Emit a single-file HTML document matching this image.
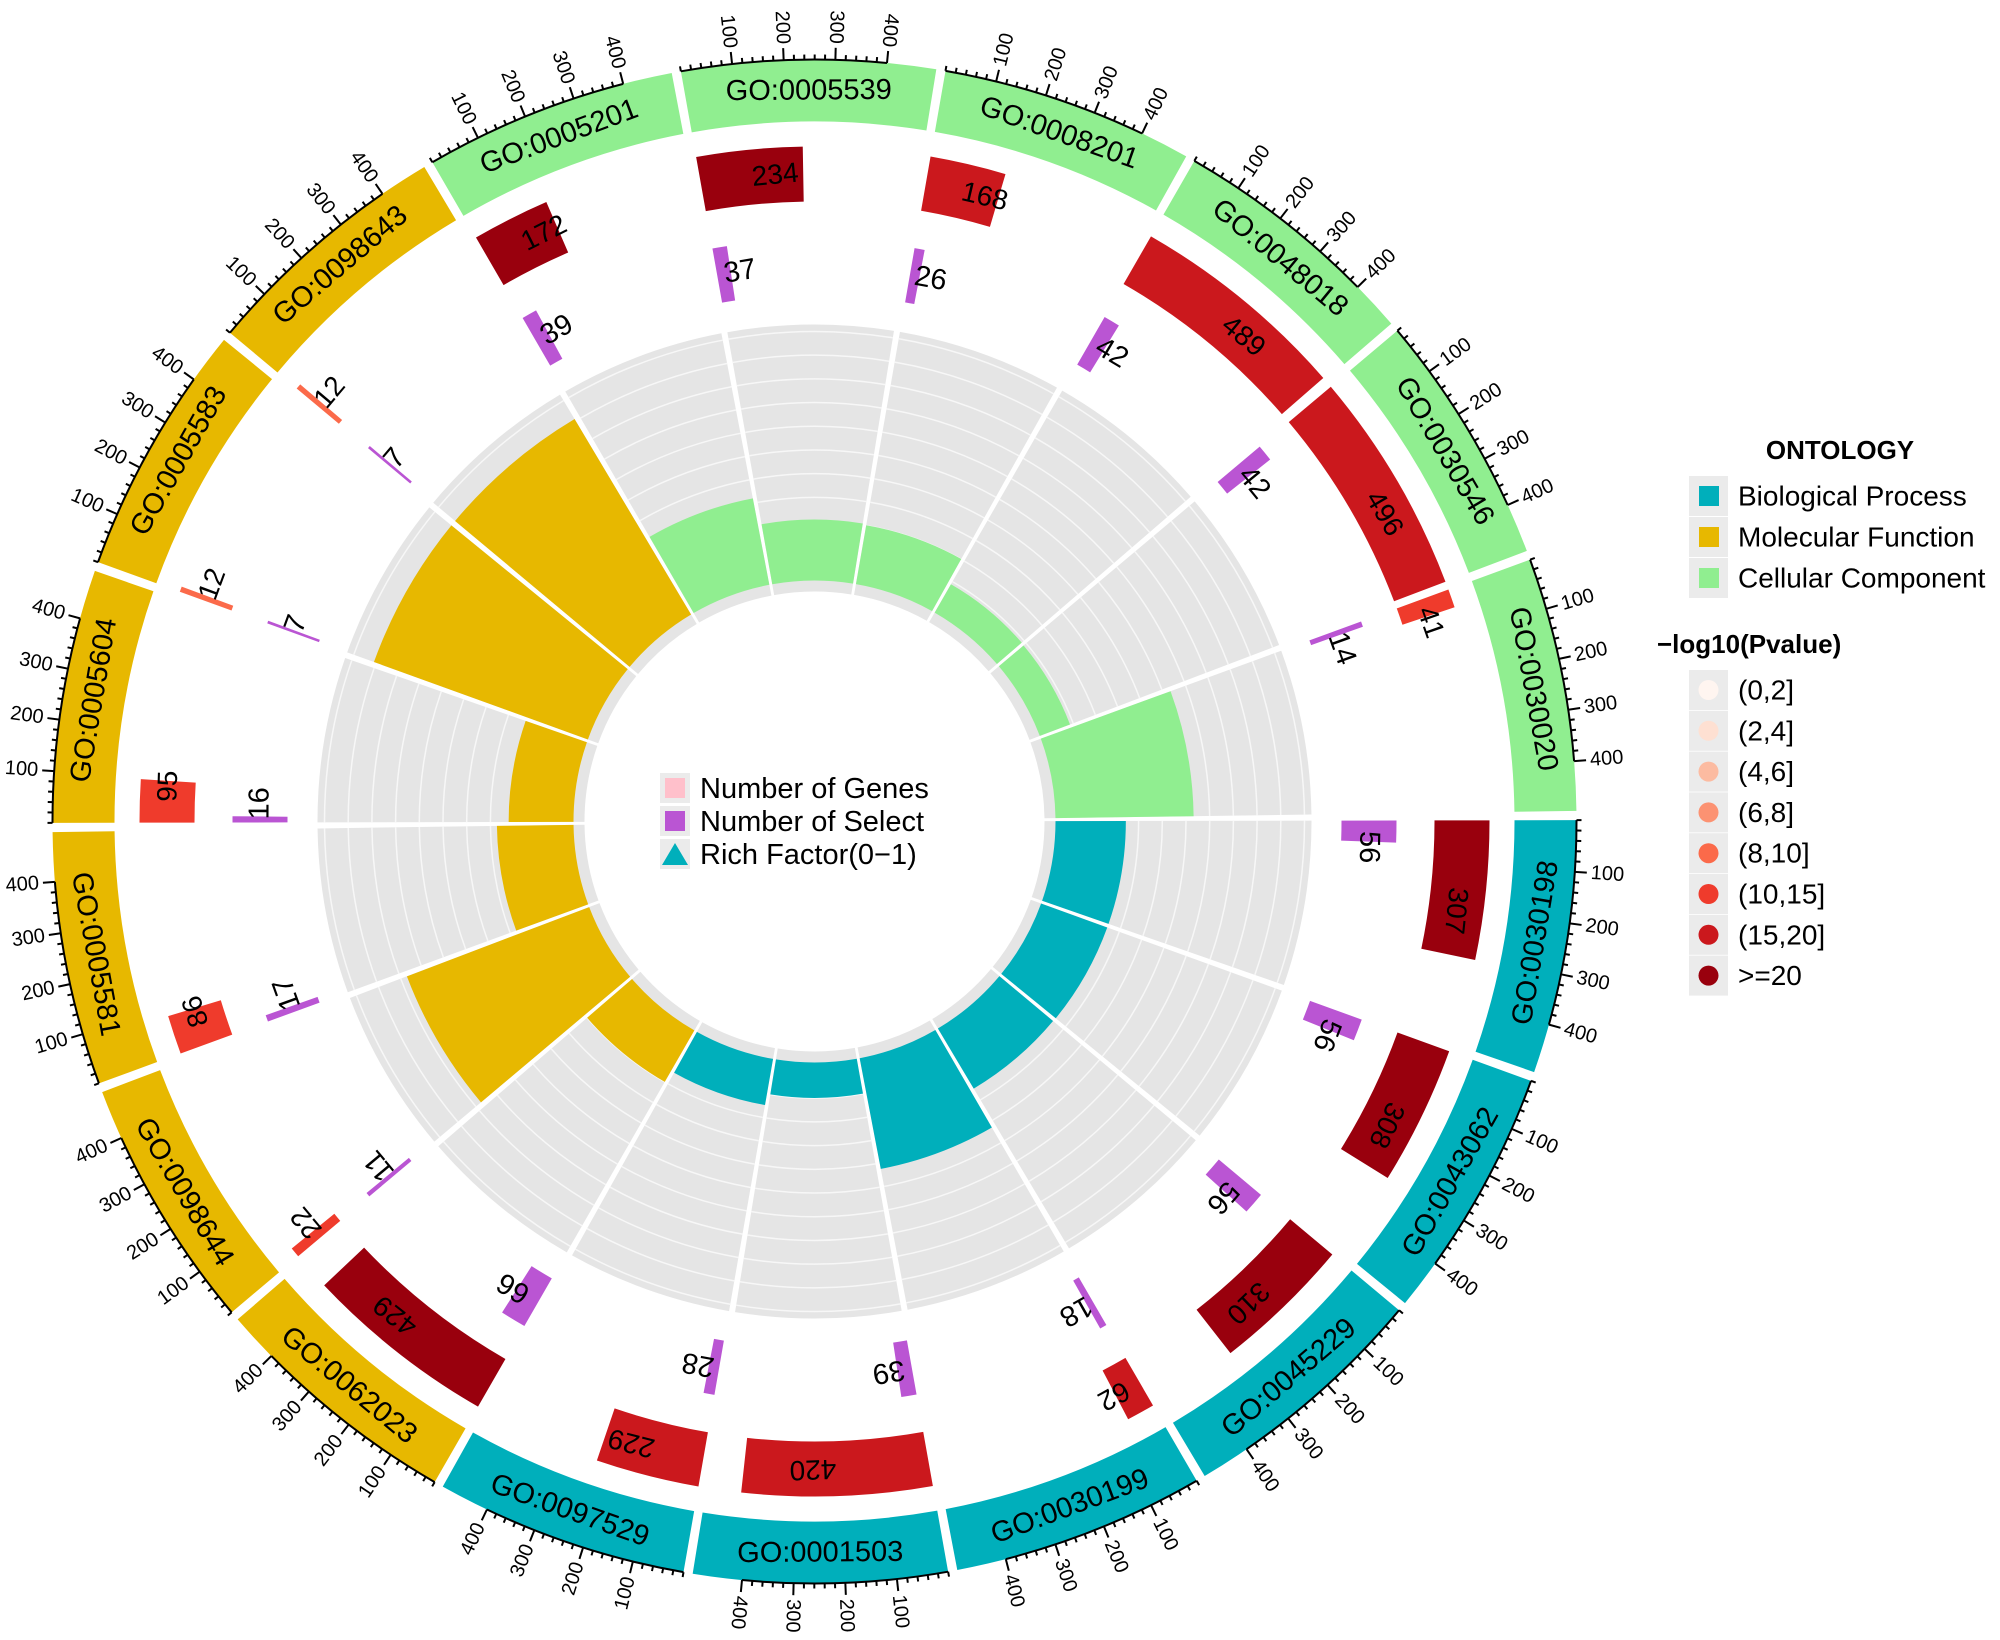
<!DOCTYPE html>
<html><head><meta charset="utf-8"><style>
html,body{margin:0;padding:0;background:#fff}
svg{display:block;font-family:"Liberation Sans",Arial,sans-serif}
</style></head><body>
<svg id="chart" width="2000" height="1640" viewBox="0 0 2000 1640" xmlns="http://www.w3.org/2000/svg">
<g id="plot"></g>
<g id="center-legend">
  <rect x="660" y="773" width="30" height="30" fill="#ebebeb"/>
  <rect x="665" y="778" width="20" height="20" fill="#ffc0cb"/>
  <text x="700" y="789" font-size="29" dominant-baseline="central">Number of Genes</text>
  <rect x="660" y="806" width="30" height="30" fill="#ebebeb"/>
  <rect x="665" y="811" width="20" height="20" fill="#ba55d3"/>
  <text x="700" y="822" font-size="29" dominant-baseline="central">Number of Select</text>
  <rect x="660" y="839" width="30" height="30" fill="#ebebeb"/>
  <polygon points="675,843 688,865 662,865" fill="#00afbb"/>
  <text x="700" y="855" font-size="29" dominant-baseline="central">Rich Factor(0−1)</text>
</g>
<g id="legend">
  <text x="1840" y="450" font-size="26" font-weight="bold" text-anchor="middle" dominant-baseline="central">ONTOLOGY</text>
</g>
</svg>
<script>
const ids = ["GO:0005539","GO:0008201","GO:0048018","GO:0030546","GO:0030020","GO:0030198","GO:0043062","GO:0045229","GO:0030199","GO:0001503","GO:0097529","GO:0062023","GO:0098644","GO:0005581","GO:0005604","GO:0005583","GO:0098643","GO:0005201"];
const ontology = ["CC","CC","CC","CC","CC","BP","BP","BP","BP","BP","BP","MF","MF","MF","MF","MF","MF","CC"];
const genes = [234,168,489,496,41,307,308,310,62,420,229,429,22,86,95,12,12,172];
const selectN = [37,26,42,42,14,56,56,56,18,39,28,66,11,17,16,7,7,39];
const pBin = [7,6,6,6,5,7,7,7,6,6,6,7,5,5,5,4,4,7];
const richFactor = [0.158,0.155,0.086,0.085,0.355,0.182,0.182,0.181,0.29,0.093,0.122,0.154,0.5,0.198,0.168,0.583,0.583,0.227];
const tickValues = [100,200,300,400];
const pLabels = ["(0,2]","(2,4]","(4,6]","(6,8]","(8,10]","(10,15]","(15,20]",">=20"];
const ontLabels = ["Biological Process","Molecular Function","Cellular Component"];

const pColors = ["#fff5f0","#fee0d2","#fcbba1","#fc9272","#fb6a4a","#ef3b2c","#cb181d","#99000d"];
const ontColors = {BP:"#00afbb", MF:"#e7b800", CC:"#90ee90"};
const CX=814.5, CY=821.5, START0=-10.1, STEP=20, SPAN=19.3, UNIT=0.0389;
const NS="http://www.w3.org/2000/svg";
const plot=document.getElementById('plot');
function rad(a){return a*Math.PI/180;}
function pt(r,a){return [CX+r*Math.sin(rad(a)), CY-r*Math.cos(rad(a))];}
function sectorPath(r0,r1,a0,a1){
  const p1=pt(r1,a0),p2=pt(r1,a1),p3=pt(r0,a1),p4=pt(r0,a0);
  const lg=(a1-a0)>180?1:0;
  return `M${p1[0]},${p1[1]} A${r1},${r1} 0 ${lg} 1 ${p2[0]},${p2[1]} L${p3[0]},${p3[1]} A${r0},${r0} 0 ${lg} 0 ${p4[0]},${p4[1]} Z`;
}
function arcPath(r,a0,a1){const p1=pt(r,a0),p2=pt(r,a1);return `M${p1[0]},${p1[1]} A${r},${r} 0 0 1 ${p2[0]},${p2[1]}`;}
function mk(tag,attrs,parent){const e=document.createElementNS(NS,tag);for(const k in attrs)e.setAttribute(k,attrs[k]);(parent||plot).appendChild(e);return e;}
function norm(a){return ((a%360)+360)%360;}
function richR(v){return 240+v*392;}

ids.forEach((id,i)=>{
  const s=START0+STEP*i, e=s+SPAN, c=s+SPAN/2, nc=norm(c);
  const g=mk('g',{});
  
  
  const bg=mk('path',{d:sectorPath(230,497,s,e),fill:'#e5e5e5'},g);
  
  
  for(let k=0;k<=10;k++){
    const gl=mk('path',{d:arcPath(253+23.7*k,s,e),fill:'none',stroke:'#f7f7f7','stroke-width':1.5},g);
    
    
  }
  const rb=mk('path',{d:sectorPath(241,richR(richFactor[i]),s,e),fill:ontColors[ontology[i]]},g);
  
  
  const sb=mk('path',{d:sectorPath(527,582,s,s+selectN[i]*UNIT),fill:'#ba55d3'},g);
  
  
  const sa=s+selectN[i]/2*UNIT, sp=pt(555,sa);
  const st=mk('text',{x:sp[0],y:sp[1],'font-size':29,'text-anchor':'start','dominant-baseline':'central',transform:`rotate(${sa} ${sp[0]} ${sp[1]})`},g);
  st.textContent=selectN[i];
  
  
  const gb=mk('path',{d:sectorPath(620,675,s,s+genes[i]*UNIT),fill:pColors[pBin[i]]},g);
  
  
  const ga=s+genes[i]/2*UNIT, gp=pt(648,ga);
  const gt=mk('text',{x:gp[0],y:gp[1],'font-size':28,'text-anchor':'start','dominant-baseline':'central',transform:`rotate(${ga} ${gp[0]} ${gp[1]})`},g);
  gt.textContent=genes[i];
  
  
  const ob=mk('path',{d:sectorPath(700,762,s,e),fill:ontColors[ontology[i]]},g);
  
  
  const lp=pt(731,c);
  const rot=(nc>90&&nc<270)?c-180:c;
  const lt=mk('text',{x:lp[0],y:lp[1],'font-size':29,'text-anchor':'middle','dominant-baseline':'central',transform:`rotate(${rot} ${lp[0]} ${lp[1]})`},g);
  lt.textContent=id;
  
  
  const ax=mk('path',{d:arcPath(762,s,s+400*UNIT),fill:'none',stroke:'#000','stroke-width':2},g);
  
  
  for(let v=0;v<=400;v+=20){
    const a=s+v*UNIT, major=(v%100===0&&v>0);
    const p0=pt(762,a), p1=pt(major?774:767,a);
    const tk=mk('line',{x1:p0[0],y1:p0[1],x2:p1[0],y2:p1[1],stroke:'#000','stroke-width':2},g);
    
    
  }
  const outward = nc<180;
  tickValues.forEach(v=>{
    const a=s+v*UNIT, p=pt(778,a);
    const tl=mk('text',{x:p[0],y:p[1],'font-size':20,'text-anchor':outward?'start':'end','dominant-baseline':'central',transform:`rotate(${outward?a-90:a+90} ${p[0]} ${p[1]})`},g);
    tl.textContent=v;
    
    
  });
});

const lg=document.getElementById('legend');
const ontKeys=["BP","MF","CC"];
ontLabels.forEach((lab,k)=>{
  const y=496+41*k;
  const b=mk('rect',{x:1689,y:y-20,width:39,height:40,fill:'#ebebeb'},lg);
  
  
  const sq=mk('rect',{x:1699,y:y-10,width:20,height:20,fill:ontColors[ontKeys[k]]},lg);
  
  
  const t=mk('text',{x:1738,y:y,'font-size':28,'dominant-baseline':'central'},lg);
  t.textContent=lab;
  
  
});
const pt2=mk('text',{x:1657,y:644,'font-size':26,'font-weight':'bold','dominant-baseline':'central'},lg);
pt2.textContent='−log10(Pvalue)';


pLabels.forEach((lab,k)=>{
  const y=690+40.8*k;
  const b=mk('rect',{x:1689,y:y-20,width:39,height:40,fill:'#ebebeb'},lg);
  
  
  const ci=mk('circle',{cx:1708.5,cy:y,r:10,fill:pColors[k]},lg);
  
  
  const t=mk('text',{x:1738,y:y,'font-size':28,'dominant-baseline':'central'},lg);
  t.textContent=lab;
  
  
});
</script>
</body></html>
